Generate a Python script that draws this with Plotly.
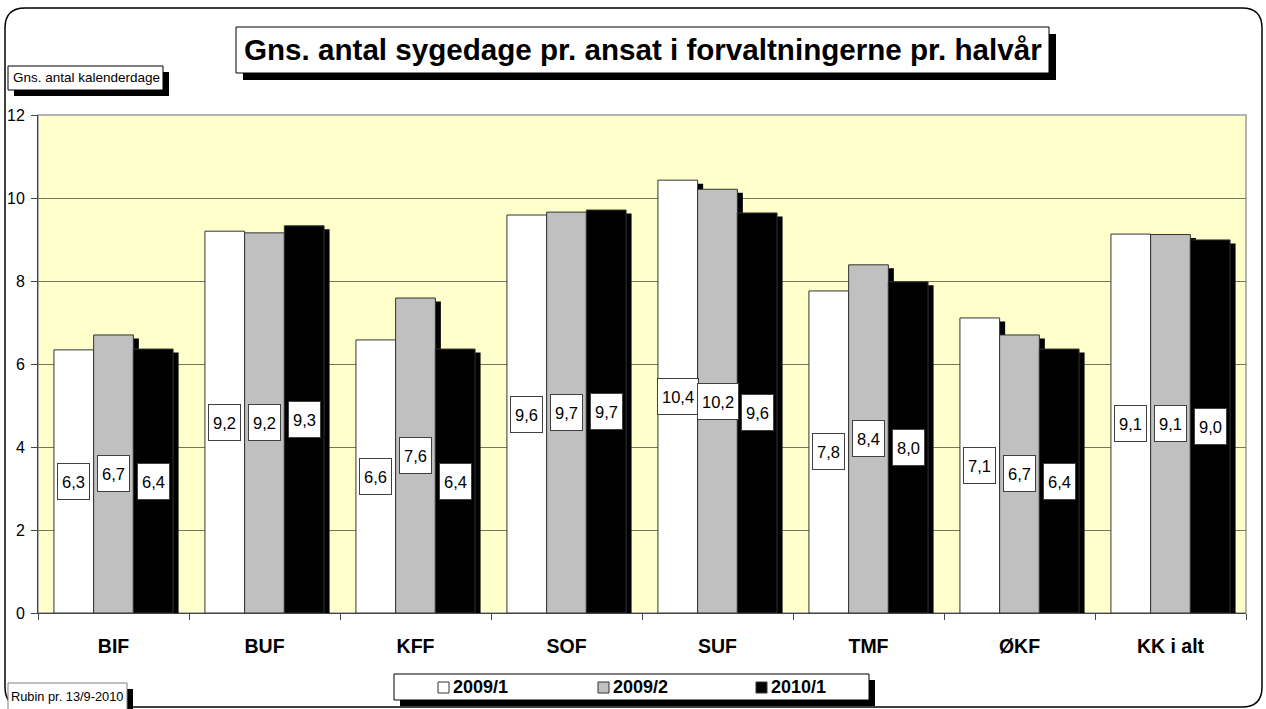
import plotly.graph_objects as go

categories = ["BIF", "BUF", "KFF", "SOF", "SUF", "TMF", "ØKF", "KK i alt"]
series_names = ["2009/1", "2009/2", "2010/1"]
v_2009_1 = [6.34, 9.20, 6.58, 9.59, 10.43, 7.76, 7.11, 9.13]
v_2009_2 = [6.70, 9.16, 7.59, 9.66, 10.21, 8.39, 6.70, 9.12]
v_2010_1 = [6.36, 9.33, 6.36, 9.71, 9.64, 7.98, 6.36, 8.99]
y_ticks = [0, 2, 4, 6, 8, 10, 12]
title_text = "Gns. antal sygedage pr. ansat i forvaltningerne pr. halvår"
y_label_text = "Gns. antal kalenderdage"
footnote_text = "Rubin pr. 13/9-2010"

series = [v_2009_1, v_2009_2, v_2010_1]
fills = ["#FFFFFF", "#C0C0C0", "#000000"]
FONT = "Arial, 'Liberation Sans', sans-serif"

W, H = 1266, 709
L, R, T, B = 38, 20, 115, 96
pw, ph = W - L - R, H - T - B


def px(x):
    return (x - L) / pw


def py(y):
    return (H - B - y) / ph


bw = 0.263
start = -1.5 * bw
sdx = 5.5 / (pw / len(categories))
sdy = 3.5 / (ph / 12)

fig = go.Figure()

# shadows
for k, vals in enumerate(series):
    fig.add_trace(go.Bar(
        x=categories, y=[v - sdy for v in vals], width=bw, offset=start + k * bw + sdx,
        marker=dict(color="#000000", line=dict(width=0)), showlegend=False, hoverinfo="skip"))

# bars
for k, vals in enumerate(series):
    fig.add_trace(go.Bar(
        x=categories, y=vals, width=bw, offset=start + k * bw, name=series_names[k],
        marker=dict(color=fills[k], line=dict(color="#333333", width=1)), showlegend=False))

annotations = []
for k, vals in enumerate(series):
    for i, v in enumerate(vals):
        annotations.append(dict(
            x=i + start + k * bw + bw / 2, y=v / 2, xref="x", yref="y",
            xanchor="center", yanchor="middle",
            text=f"{v:.1f}".replace(".", ","), showarrow=False,
            font=dict(family=FONT, size=16.5, color="#000000"),
            bgcolor="#FFFFFF", bordercolor="#404040", borderwidth=1, borderpad=4, height=27))

shapes = []


def box(x0, y0, x1, y1, shadow=6, line="#000000"):
    if shadow:
        shapes.append(dict(type="rect", xref="paper", yref="paper", x0=px(x0 + shadow), x1=px(x1 + shadow),
                           y0=py(y0 + shadow), y1=py(y1 + shadow), fillcolor="#000000",
                           line=dict(width=0), layer="above"))
    shapes.append(dict(type="rect", xref="paper", yref="paper", x0=px(x0), x1=px(x1),
                       y0=py(y0), y1=py(y1), fillcolor="#FFFFFF",
                       line=dict(color=line, width=1), layer="above"))


def label(x, y, text, size, bold=False, anchor="center"):
    f = dict(family=FONT, size=size, color="#000000")
    if bold:
        f["weight"] = "bold"
    annotations.append(dict(x=px(x), y=py(y), xref="paper", yref="paper", text=text,
                            xanchor=anchor, yanchor="middle", showarrow=False, font=f))


# plot area border (top/right grey)
shapes.append(dict(type="rect", xref="paper", yref="paper", x0=0, x1=1, y0=0, y1=1,
                   line=dict(color="#9a9a9a", width=1.5), layer="below"))

# outer rounded frame
x0, y0, x1, y1, r = 5, 8, 1262, 707, 20
path = (f"M {px(x0 + r)},{py(y0)} L {px(x1 - r)},{py(y0)} Q {px(x1)},{py(y0)} {px(x1)},{py(y0 + r)} "
        f"L {px(x1)},{py(y1 - r)} Q {px(x1)},{py(y1)} {px(x1 - r)},{py(y1)} "
        f"L {px(x0 + r)},{py(y1)} Q {px(x0)},{py(y1)} {px(x0)},{py(y1 - r)} "
        f"L {px(x0)},{py(y0 + r)} Q {px(x0)},{py(y0)} {px(x0 + r)},{py(y0)} Z")
shapes.append(dict(type="path", xref="paper", yref="paper", path=path,
                   line=dict(color="#000000", width=1.5), layer="above"))

# title box
box(236, 27, 1049, 73, shadow=7)
label(642.5, 50, title_text, 29.6, bold=True)
# y label box
box(8, 66, 163, 90)
label(86, 78, y_label_text, 13.5)
# footnote box
shapes.append(dict(type="rect", xref="paper", yref="paper", x0=px(127), x1=px(133), y0=py(689), y1=py(712),
                   fillcolor="#000000", line=dict(width=0), layer="above"))
shapes.append(dict(type="rect", xref="paper", yref="paper", x0=px(8), x1=px(127), y0=py(683), y1=py(712),
                   fillcolor="#FFFFFF", line=dict(color="#808080", width=1), layer="above"))
label(67, 696, footnote_text, 12.8)
# legend
box(394, 674, 869, 700)
leg_x = [438, 598, 756]
for k, name in enumerate(series_names):
    sx = leg_x[k]
    shapes.append(dict(type="rect", xref="paper", yref="paper", x0=px(sx), x1=px(sx + 11),
                       y0=py(682), y1=py(693), fillcolor=fills[k],
                       line=dict(color="#333333", width=1), layer="above"))
    label(sx + 13, 687, name, 18, bold=True, anchor="left")

fig.update_layout(
    width=W, height=H, barmode="overlay",
    margin=dict(l=L, r=R, t=T, b=B, pad=0, autoexpand=False),
    paper_bgcolor="#FFFFFF", plot_bgcolor="#FFFFCC",
    font=dict(family=FONT, color="#000000"),
    annotations=annotations, shapes=shapes,
    xaxis=dict(type="category", showgrid=False, ticks="outside", tickson="boundaries", ticklen=6,
               tickcolor="#444444", showline=True, linecolor="#444444", linewidth=1, automargin=False,
               tickfont=dict(family=FONT, size=19.5, color="#000000", weight="bold"),
               ticklabelstandoff=16, range=[-0.5, len(categories) - 0.5]),
    yaxis=dict(range=[0, 12], tickvals=y_ticks, ticks="outside", ticklen=6, tickcolor="#444444",
               showline=True, linecolor="#444444", linewidth=1, showgrid=True, automargin=False,
               gridcolor="#77775c", gridwidth=1, zeroline=False,
               tickfont=dict(family=FONT, size=16, color="#000000"), ticklabelstandoff=3),
)

fig.write_html("out.html", config={"displayModeBar": False},
               post_script="document.body.style.margin='0';document.body.style.overflow='hidden';")
